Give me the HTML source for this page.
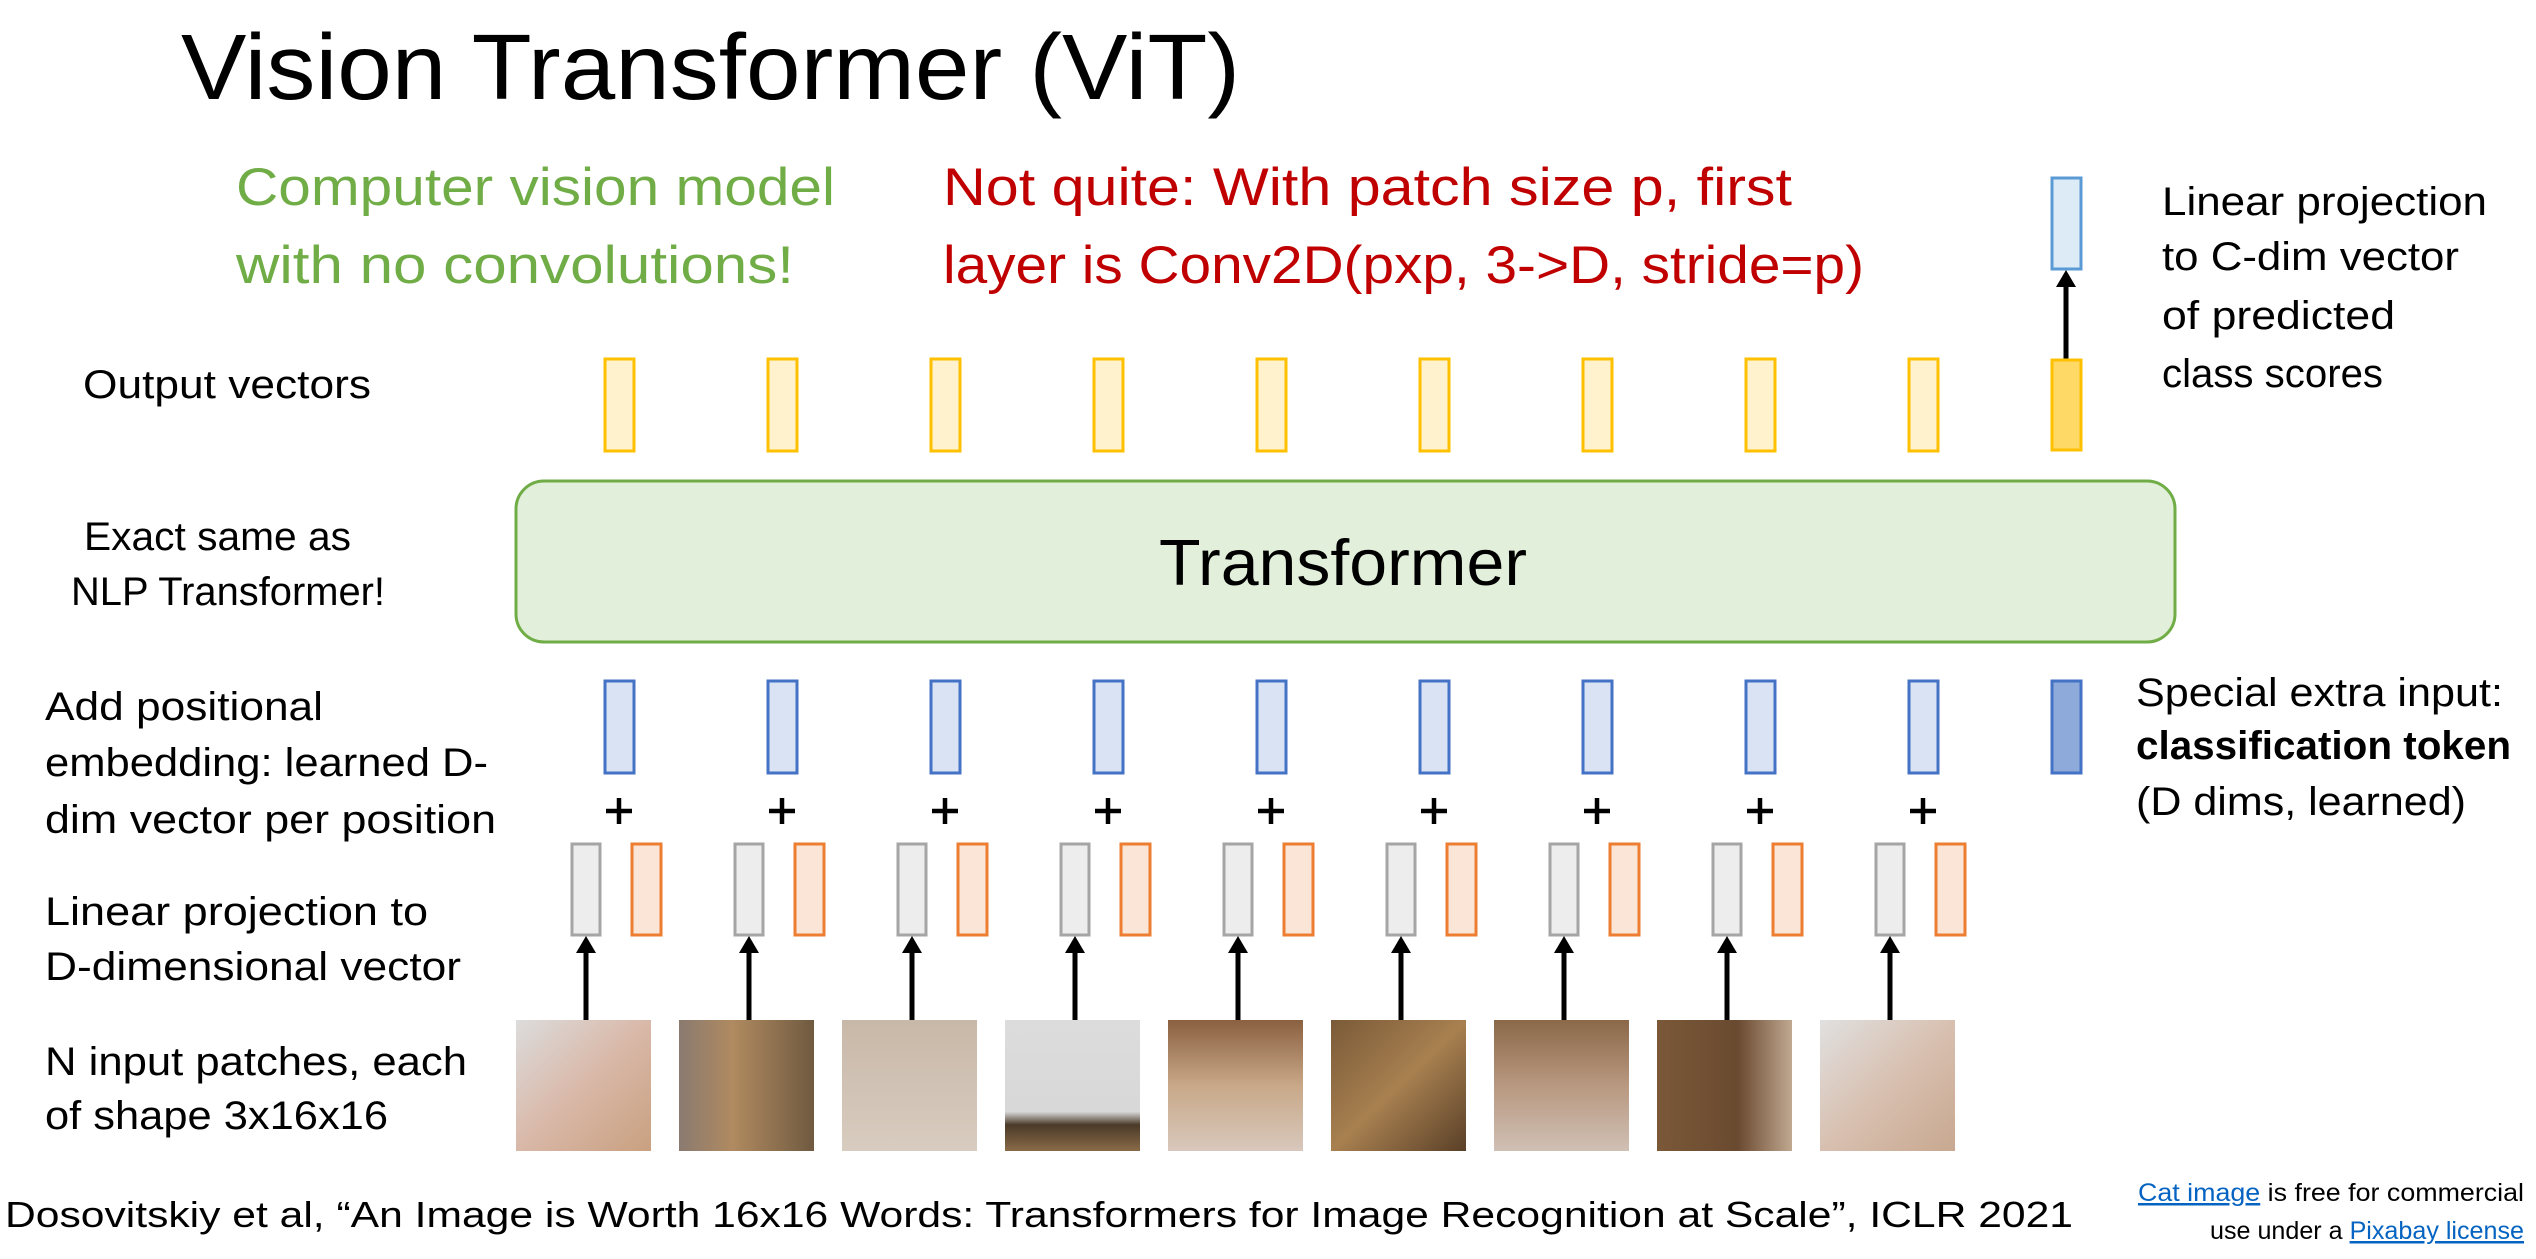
<!DOCTYPE html>
<html><head><meta charset="utf-8"><style>
html,body{margin:0;padding:0;background:#fff;}
svg text{font-family:"Liberation Sans",sans-serif;}
</style></head><body>
<svg width="2536" height="1254" viewBox="0 0 2536 1254" xmlns="http://www.w3.org/2000/svg">
<defs>
<linearGradient id="p1" x1="0" y1="0" x2="1" y2="1"><stop offset="0" stop-color="#dcdcdc"/><stop offset="0.5" stop-color="#d9b8a8"/><stop offset="1" stop-color="#c9a080"/></linearGradient>
<linearGradient id="p2" x1="0" y1="0" x2="1" y2="0"><stop offset="0" stop-color="#8a7a70"/><stop offset="0.4" stop-color="#b08a60"/><stop offset="1" stop-color="#6f5a40"/></linearGradient>
<linearGradient id="p3" x1="0" y1="0" x2="0" y2="1"><stop offset="0" stop-color="#c8b8a8"/><stop offset="1" stop-color="#d8ccc0"/></linearGradient>
<linearGradient id="p4" x1="0" y1="0" x2="0" y2="1"><stop offset="0" stop-color="#dcdcdc"/><stop offset="0.7" stop-color="#d8d8d8"/><stop offset="0.8" stop-color="#4a3a28"/><stop offset="1" stop-color="#8a6a48"/></linearGradient>
<linearGradient id="p5" x1="0" y1="0" x2="0" y2="1"><stop offset="0" stop-color="#8a6040"/><stop offset="0.5" stop-color="#c8a888"/><stop offset="1" stop-color="#d8c8bc"/></linearGradient>
<linearGradient id="p6" x1="0" y1="0" x2="1" y2="1"><stop offset="0" stop-color="#7a5a38"/><stop offset="0.5" stop-color="#a88050"/><stop offset="1" stop-color="#5a4028"/></linearGradient>
<linearGradient id="p7" x1="0" y1="0" x2="0" y2="1"><stop offset="0" stop-color="#8a6848"/><stop offset="0.5" stop-color="#b89880"/><stop offset="1" stop-color="#d0c0b4"/></linearGradient>
<linearGradient id="p8" x1="0" y1="0" x2="1" y2="0"><stop offset="0" stop-color="#7a5838"/><stop offset="0.6" stop-color="#6a4a30"/><stop offset="1" stop-color="#c0a890"/></linearGradient>
<linearGradient id="p9" x1="0" y1="0" x2="1" y2="1"><stop offset="0" stop-color="#e0e0e0"/><stop offset="0.5" stop-color="#d8c0b0"/><stop offset="1" stop-color="#c8a890"/></linearGradient>
<g id="col">
<rect x="-14" y="359" width="29" height="92" fill="#fff2cc" stroke="#ffc000" stroke-width="3"/>
<rect x="-14" y="681" width="29" height="92" fill="#dae3f3" stroke="#4472c4" stroke-width="3"/>
<path d="M-13,811 h26 M0,798 v26" stroke="#000" stroke-width="4.5"/>
<rect x="-47" y="844" width="28" height="91" fill="#ededed" stroke="#a5a5a5" stroke-width="3"/>
<rect x="13" y="844" width="29" height="91" fill="#fbe5d6" stroke="#ed7d31" stroke-width="3"/>
<line x1="-33" y1="1020" x2="-33" y2="950" stroke="#000" stroke-width="5"/>
<polygon points="-33,936 -43,953 -23,953" fill="#000"/>
</g>
</defs>

<text x="181" y="99" font-size="93" textLength="1059" lengthAdjust="spacingAndGlyphs">Vision Transformer (ViT)</text>
<text x="236" y="205" font-size="53" fill="#70ad47" textLength="599" lengthAdjust="spacingAndGlyphs">Computer vision model</text>
<text x="236" y="283" font-size="53" fill="#70ad47" textLength="558" lengthAdjust="spacingAndGlyphs">with no convolutions!</text>
<text x="943" y="205" font-size="53" fill="#c00000" textLength="849" lengthAdjust="spacingAndGlyphs">Not quite: With patch size p, first</text>
<text x="943" y="283" font-size="53" fill="#c00000" textLength="921" lengthAdjust="spacingAndGlyphs">layer is Conv2D(pxp, 3-&gt;D, stride=p)</text>

<g font-size="40">
<text x="83" y="398" textLength="288" lengthAdjust="spacingAndGlyphs">Output vectors</text>
<text x="84" y="550" textLength="267" lengthAdjust="spacingAndGlyphs">Exact same as</text>
<text x="71" y="605" textLength="314" lengthAdjust="spacingAndGlyphs">NLP Transformer!</text>
<text x="45" y="720" textLength="278" lengthAdjust="spacingAndGlyphs">Add positional</text>
<text x="45" y="776" textLength="443" lengthAdjust="spacingAndGlyphs">embedding: learned D-</text>
<text x="45" y="833" textLength="451" lengthAdjust="spacingAndGlyphs">dim vector per position</text>
<text x="45" y="925" textLength="383" lengthAdjust="spacingAndGlyphs">Linear projection to</text>
<text x="45" y="980" textLength="416" lengthAdjust="spacingAndGlyphs">D-dimensional vector</text>
<text x="45" y="1075" textLength="422" lengthAdjust="spacingAndGlyphs">N input patches, each</text>
<text x="45" y="1129" textLength="343" lengthAdjust="spacingAndGlyphs">of shape 3x16x16</text>
<text x="2162" y="215" textLength="325" lengthAdjust="spacingAndGlyphs">Linear projection</text>
<text x="2162" y="270" textLength="297" lengthAdjust="spacingAndGlyphs">to C-dim vector</text>
<text x="2162" y="329" textLength="233" lengthAdjust="spacingAndGlyphs">of predicted</text>
<text x="2162" y="387" textLength="221" lengthAdjust="spacingAndGlyphs">class scores</text>
<text x="2136" y="706" textLength="367" lengthAdjust="spacingAndGlyphs">Special extra input:</text>
<text x="2136" y="759" font-weight="bold" textLength="375" lengthAdjust="spacingAndGlyphs">classification token</text>
<text x="2136" y="815" textLength="330" lengthAdjust="spacingAndGlyphs">(D dims, learned)</text>
</g>

<rect x="516" y="481" width="1659" height="161" rx="28" fill="#e2efda" stroke="#70ad47" stroke-width="3"/>
<text x="1159" y="585" font-size="65" textLength="368" lengthAdjust="spacingAndGlyphs">Transformer</text>

<g transform="translate(619,0)"><use href="#col"/><rect x="-103" y="1020" width="135" height="131" fill="url(#p1)"/></g>
<g transform="translate(782,0)"><use href="#col"/><rect x="-103" y="1020" width="135" height="131" fill="url(#p2)"/></g>
<g transform="translate(945,0)"><use href="#col"/><rect x="-103" y="1020" width="135" height="131" fill="url(#p3)"/></g>
<g transform="translate(1108,0)"><use href="#col"/><rect x="-103" y="1020" width="135" height="131" fill="url(#p4)"/></g>
<g transform="translate(1271,0)"><use href="#col"/><rect x="-103" y="1020" width="135" height="131" fill="url(#p5)"/></g>
<g transform="translate(1434,0)"><use href="#col"/><rect x="-103" y="1020" width="135" height="131" fill="url(#p6)"/></g>
<g transform="translate(1597,0)"><use href="#col"/><rect x="-103" y="1020" width="135" height="131" fill="url(#p7)"/></g>
<g transform="translate(1760,0)"><use href="#col"/><rect x="-103" y="1020" width="135" height="131" fill="url(#p8)"/></g>
<g transform="translate(1923,0)"><use href="#col"/><rect x="-103" y="1020" width="135" height="131" fill="url(#p9)"/></g>
<g transform="translate(2066,0)">
<rect x="-14" y="178" width="29" height="91" fill="#ddebf7" stroke="#5b9bd5" stroke-width="3"/>
<line x1="0" y1="360" x2="0" y2="283" stroke="#000" stroke-width="5"/>
<polygon points="0,270 -10,287 10,287" fill="#000"/>
<rect x="-14" y="360" width="29" height="90" fill="#ffd966" stroke="#ffc000" stroke-width="3"/>
<rect x="-14" y="681" width="29" height="92" fill="#8eaadb" stroke="#4472c4" stroke-width="3"/>
</g>

<text x="5" y="1227" font-size="36" textLength="2068" lengthAdjust="spacingAndGlyphs">Dosovitskiy et al, “An Image is Worth 16x16 Words: Transformers for Image Recognition at Scale”, ICLR 2021</text>
<text x="2138" y="1201" font-size="25" textLength="386" lengthAdjust="spacingAndGlyphs"><tspan fill="#0563c1" text-decoration="underline">Cat image</tspan> is free for commercial</text>
<text x="2210" y="1239" font-size="25" textLength="314" lengthAdjust="spacingAndGlyphs">use under a <tspan fill="#0563c1" text-decoration="underline">Pixabay license</tspan></text>
</svg>
</body></html>
